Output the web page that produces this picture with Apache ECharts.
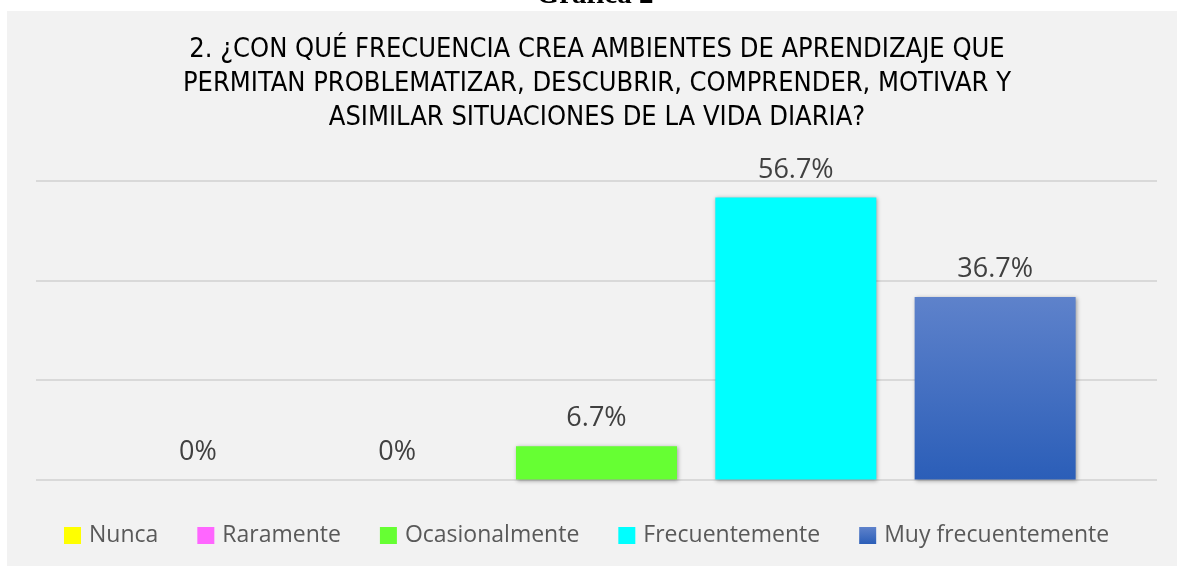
<!DOCTYPE html>
<html lang="es">
<head>
    <meta charset="UTF-8">
    <title>Gráfica 2</title>
    <script src="https://cdn.jsdelivr.net/npm/echarts@6/dist/echarts.min.js"></script>
    <style>
        html, body { margin: 0; padding: 0; background: #fff; }
        #main { width: 1180px; height: 569px; }
    </style>
</head>
<body>
<div id="main"></div>
<script>
    // datos de la gráfica
    var categorias = ['Nunca', 'Raramente', 'Ocasionalmente', 'Frecuentemente', 'Muy frecuentemente'];
    var valores = [0, 0, 6.7, 56.7, 36.7];
    var colores = [
        '#ffff00',
        '#ff66ff',
        '#66ff33',
        '#00ffff',
        new echarts.graphic.LinearGradient(0, 0, 0, 1, [
            { offset: 0, color: '#5e82cb' },
            { offset: 1, color: '#2b5eb8' }
        ])
    ];
    var titulo = '2. ¿CON QUÉ FRECUENCIA CREA AMBIENTES DE APRENDIZAJE QUE\n' +
        'PERMITAN PROBLEMATIZAR, DESCUBRIR, COMPRENDER, MOTIVAR Y\n' +
        'ASIMILAR SITUACIONES DE LA VIDA DIARIA?';

    var myChart = echarts.init(document.getElementById('main'));

    var series = [];
    for (var i = 0; i < categorias.length; i++) {
        series.push({
            name: categorias[i],
            type: 'bar',
            data: [valores[i]],
            barWidth: 161,
            barGap: '23.8%',
            itemStyle: {
                color: colores[i],
                shadowBlur: 4,
                shadowOffsetX: 1,
                shadowOffsetY: 1,
                shadowColor: 'rgba(0,0,0,0.35)'
            },
            label: {
                show: true,
                position: 'top',
                distance: 14,
                formatter: '{c}%',
                fontFamily: 'Open Sans',
                fontSize: 27,
                color: '#404040'
            }
        });
    }

    var option = {
        backgroundColor: '#ffffff',
        animation: false,
        graphic: [
            {
                type: 'rect',
                z: -100,
                silent: true,
                shape: { x: 7, y: 11, width: 1170, height: 555 },
                style: { fill: '#f2f2f2' }
            },
            {
                type: 'text',
                z: -50,
                x: 595,
                y: 10,
                style: {
                    text: 'Gráfica 2',
                    fontFamily: 'Liberation Serif',
                    fontWeight: 'bold',
                    fontSize: 29,
                    fill: '#000',
                    textAlign: 'center',
                    textVerticalAlign: 'bottom'
                }
            }
        ],
        title: {
            text: titulo,
            left: 597,
            textAlign: 'center',
            top: 33,
            padding: 0,
            textStyle: {
                fontFamily: '"DejaVu Sans Condensed", "Liberation Sans", sans-serif',
                fontWeight: 'normal',
                fontSize: 27,
                lineHeight: 34,
                color: '#000'
            }
        },
        legend: {
            data: categorias,
            left: 64,
            top: 524,
            padding: 0,
            itemWidth: 17,
            itemHeight: 17,
            itemGap: 39,
            icon: 'rect',
            textStyle: {
                fontFamily: 'Open Sans',
                fontSize: 23,
                color: '#595959',
                padding: [0, 0, 0, 3]
            }
        },
        grid: {
            left: 36,
            right: 23,
            top: 181,
            bottom: 89.5
        },
        xAxis: {
            type: 'category',
            data: [''],
            axisLine: { show: false },
            axisTick: { show: false },
            axisLabel: { show: false }
        },
        yAxis: {
            type: 'value',
            min: 0,
            max: 60,
            interval: 20,
            axisLine: { show: false },
            axisTick: { show: false },
            axisLabel: { show: false },
            splitLine: { lineStyle: { color: '#d9d9d9', width: 2 } }
        },
        series: series
    };

    myChart.setOption(option);
</script>
</body>
</html>
